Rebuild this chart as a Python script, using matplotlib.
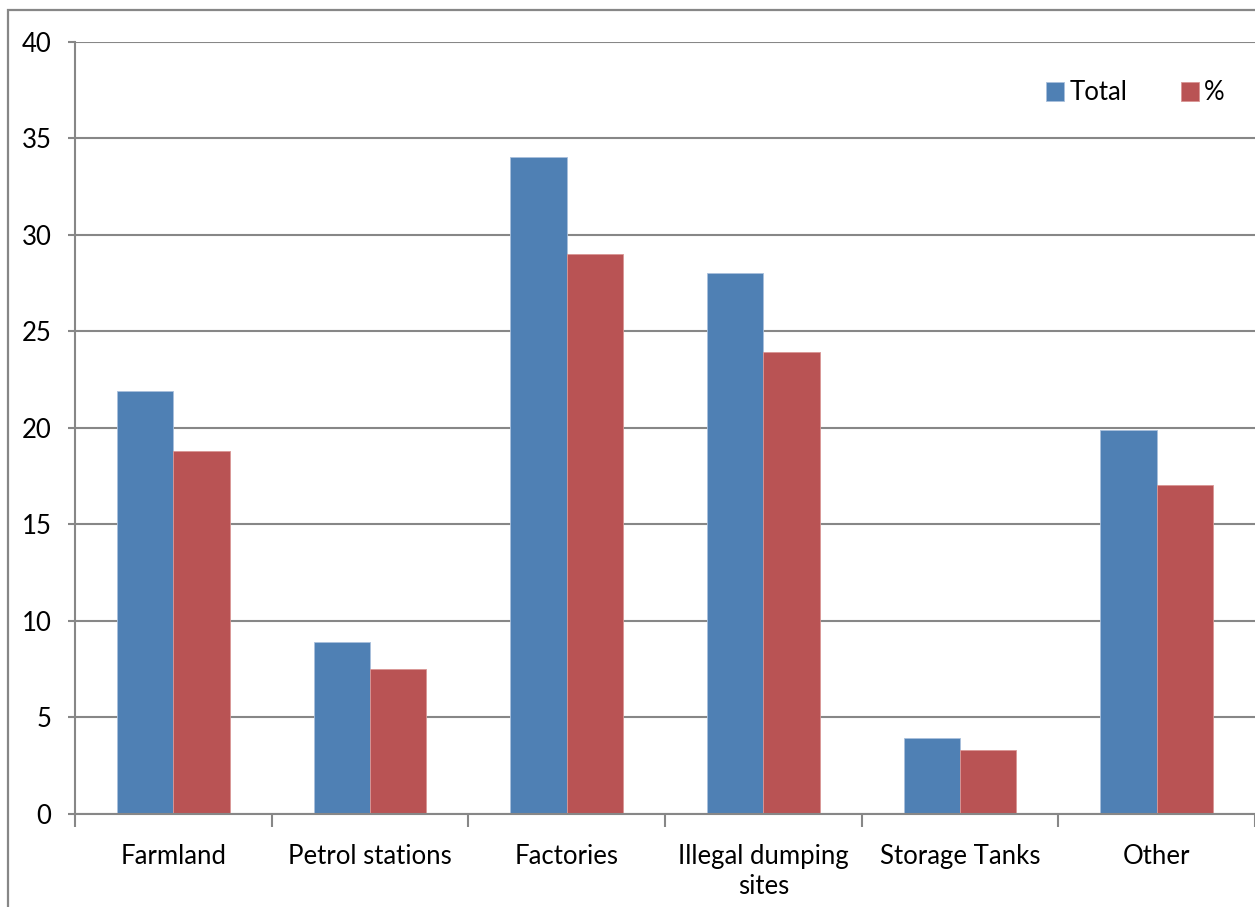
import numpy as np
import matplotlib.pyplot as plt
from matplotlib.patches import Rectangle

categories = ["Farmland", "Petrol stations", "Factories", "Illegal dumping\nsites",
              "Storage Tanks", "Other"]
total = [21.9, 8.9, 34.0, 28.0, 3.9, 19.9]
percent = [18.8, 7.5, 29.0, 23.9, 3.3, 17.0]
yticks = [0, 5, 10, 15, 20, 25, 30, 35, 40]

blue = "#4F80B4"
red = "#B95354"
grey = "#878787"

plt.rcParams['font.family'] = ['Lato', 'DejaVu Sans']

W, H = 1255, 907
fig = plt.figure(figsize=(W / 100, H / 100), dpi=100)

# outer chart frame (left and top edges visible)
fig.patches.append(Rectangle((8 / W, -0.1), 1.2, 1.1 - 10 / H, transform=fig.transFigure,
                             fill=False, ec=grey, lw=1.6))

ax = fig.add_axes([75 / W, (H - 813.5) / H, (W - 75) / W, (813.5 - 41.7) / H])

x = np.arange(len(categories))
w = 0.286
ax.bar(x - w / 2, total, w, color=blue, ec="#A9C0DC", lw=0.6, label="Total", zorder=3)
ax.bar(x + w / 2, percent, w, color=red, ec="#D99694", lw=0.6, label="%", zorder=3)

ax.set_xlim(-0.5, len(categories) - 0.5)
ax.set_ylim(0, 40)
ax.set_yticks(yticks)
ax.yaxis.grid(True, color=grey, lw=1.5, zorder=0)
ax.set_axisbelow(True)

for s in ["top", "right"]:
    ax.spines[s].set_visible(False)
for s in ["left", "bottom"]:
    ax.spines[s].set_color(grey)
    ax.spines[s].set_linewidth(1.5)
    ax.spines[s].set_zorder(4)

ax.tick_params(axis="y", length=5, width=1.5, color=grey, pad=12, labelsize=18.5)
ax.set_xticks(x)
ax.set_xticklabels(categories, fontsize=18.5, linespacing=1.25)
ax.set_xticks(np.arange(len(categories) + 1) - 0.5, minor=True)
ax.tick_params(axis="x", which="major", length=0, pad=22)
ax.tick_params(axis="x", which="minor", length=9, width=1.5, color=grey)

fig.legend(loc="center left", bbox_to_anchor=(1046 / W, 1 - 93 / H), ncol=2,
           frameon=False, fontsize=18.5, handlelength=0.7, handleheight=0.75,
           handletextpad=0.2, columnspacing=2.1, borderpad=0, borderaxespad=0)

fig.savefig("out.png", dpi=100)
